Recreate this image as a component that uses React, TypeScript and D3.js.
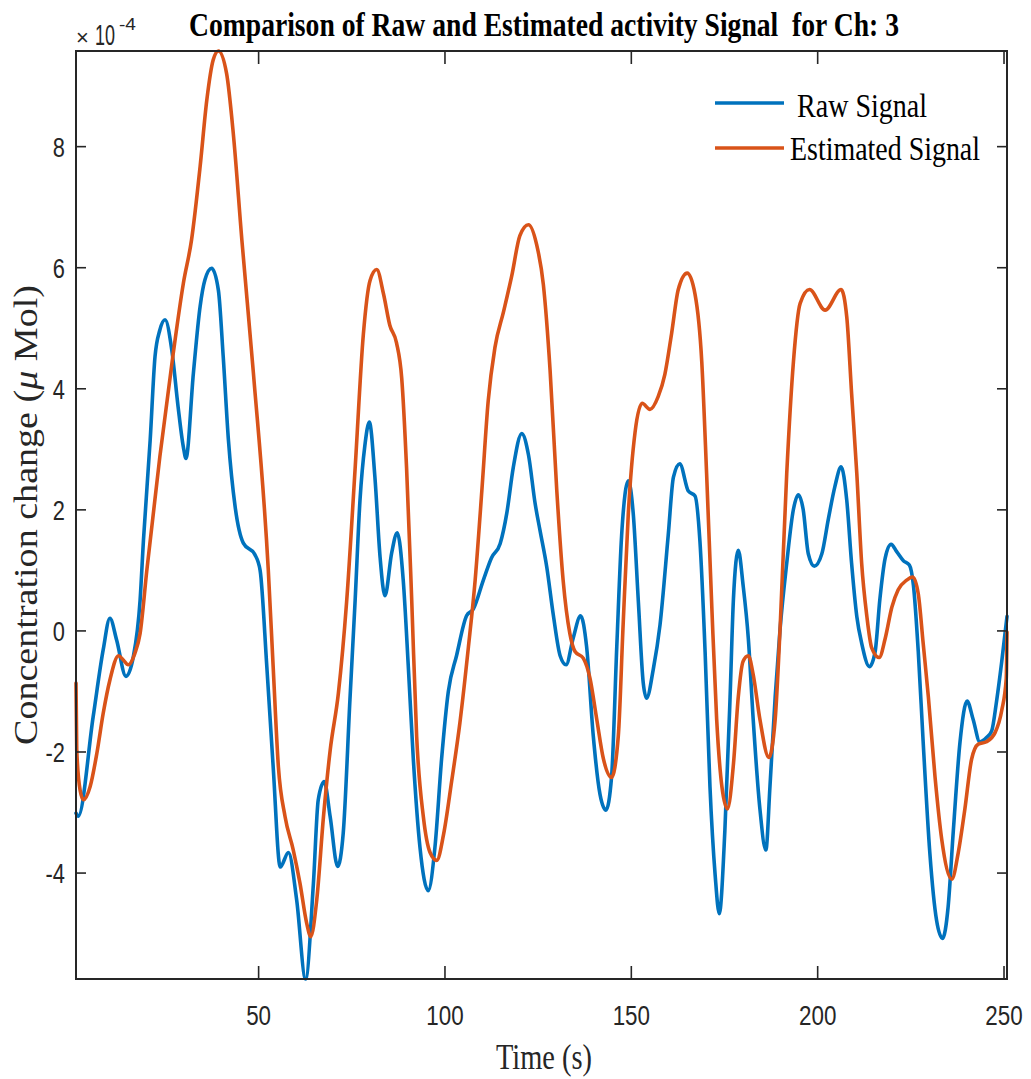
import React, { useEffect } from "react";
import * as d3 from "d3";

// Values are in units of 1e-4 (axis multiplier shown as ×10^-4)
const rawTime = [1, 1.6, 5.6, 8.3, 10.1, 11.9, 14.4, 16.4, 18.2, 19.1, 20.9, 22.2, 23.5, 24.9, 26.7, 28.4, 29.8, 30.5, 32.5, 34.3, 35.6, 37.4, 39.2, 40.5, 41.9, 43.7, 45.9, 49.0, 50.4, 52.2, 53.9, 55.8, 58.0, 60.2, 62.6, 64.7, 66.0, 67.6, 69.2, 71.2, 72.7, 74.5, 75.9, 77.2, 78.5, 79.7, 81.2, 82.6, 83.9, 85.7, 87.2, 88.8, 90.2, 91.5, 93.3, 95.5, 97.3, 99.1, 100.9, 103.1, 105.8, 107.6, 110.3, 112.5, 114.8, 116.6, 118.3, 120.6, 122.4, 124.2, 125.5, 127.3, 129.1, 130.9, 132.5, 134.4, 136.4, 138.0, 139.8, 141.6, 143.2, 144.7, 146.1, 147.4, 149.2, 150.5, 151.9, 153.2, 154.1, 155.9, 157.7, 159.9, 161.3, 163.0, 165.3, 167.1, 168.4, 169.8, 171.1, 172.5, 173.6, 175.1, 176.5, 177.4, 178.7, 180.0, 181.4, 182.7, 184.5, 186.1, 187.2, 188.6, 189.9, 191.7, 193.5, 194.8, 196.1, 197.5, 199.1, 201.1, 202.9, 204.6, 206.3, 207.8, 209.1, 210.5, 211.8, 213.9, 215.4, 216.7, 218.1, 219.7, 221.2, 223.0, 224.6, 225.7, 227.0, 228.3, 230.1, 231.9, 233.5, 235.0, 236.4, 238.2, 240.1, 241.7, 243.5, 245.3, 246.7, 248.0, 249.4, 250.8];
const rawValue = [-3.01, -3.06, -1.42, -0.31, 0.21, -0.15, -0.75, -0.42, 0.51, 1.5, 3.15, 4.53, 4.97, 5.14, 4.64, 3.70, 3.04, 2.85, 4.26, 5.36, 5.80, 5.99, 5.63, 4.53, 3.15, 2.05, 1.45, 1.26, 1.0, -0.59, -2.24, -3.9, -3.66, -4.44, -5.75, -4.17, -2.79, -2.49, -3.07, -3.89, -3.34, -1.14, 0.51, 2.16, 3.06, 3.45, 2.54, 1.21, 0.58, 1.29, 1.62, 0.84, -0.63, -2.11, -3.58, -4.29, -3.58, -2.11, -1.0, -0.41, 0.25, 0.36, 0.84, 1.21, 1.44, 1.95, 2.69, 3.26, 2.91, 2.10, 1.66, 1.06, 0.25, -0.41, -0.56, -0.12, 0.25, -0.26, -1.74, -2.70, -2.96, -2.41, -0.26, 1.58, 2.48, 1.95, 0.47, -0.86, -1.11, -0.63, 0.10, 1.58, 2.54, 2.76, 2.31, 2.23, 1.49, -0.35, -2.57, -4.04, -4.67, -3.30, -1.09, 0.53, 1.33, 0.75, -0.13, -1.46, -2.94, -3.62, -2.57, -1.09, 0.02, 1.12, 2.01, 2.25, 2.01, 1.27, 1.07, 1.27, 1.86, 2.38, 2.71, 2.16, 1.12, 0.24, -0.20, -0.59, -0.35, 0.53, 1.20, 1.43, 1.31, 1.16, 1.09, 0.75, -0.35, -1.83, -3.67, -4.78, -5.08, -4.56, -3.30, -1.83, -1.16, -1.46, -1.83, -1.76, -1.65, -1.16, -0.50, 0.24];

const estTime = [1, 1.2, 2.1, 3.0, 4.8, 6.6, 8.3, 10.1, 12.4, 13.7, 15.0, 16.8, 18.2, 20.0, 23.5, 27.1, 29.8, 32.0, 34.3, 36.1, 37.8, 39.2, 41.4, 43.2, 45.5, 48.6, 52.6, 53.9, 55.3, 57.1, 59.3, 61.1, 62.9, 64.0, 65.6, 67.4, 69.2, 71.4, 73.6, 75.9, 78.1, 79.9, 81.7, 83.5, 85.2, 87.0, 88.4, 89.7, 91.1, 92.4, 94.2, 96.0, 97.8, 99.6, 101.8, 104.0, 106.3, 108.1, 109.9, 111.6, 113.4, 115.7, 117.9, 120.1, 122.4, 124.6, 126.4, 128.2, 130.0, 131.7, 133.5, 134.9, 137.1, 138.9, 140.7, 142.5, 144.7, 146.5, 147.8, 149.2, 151.0, 152.9, 155.0, 157.2, 159.0, 160.8, 162.6, 165.0, 167.1, 168.9, 170.2, 171.6, 172.9, 174.3, 175.8, 177.4, 178.7, 180.0, 181.4, 182.7, 184.5, 186.9, 188.6, 189.9, 191.7, 193.5, 195.3, 197.8, 202.0, 206.3, 207.8, 209.1, 210.5, 211.8, 213.2, 214.5, 216.5, 218.1, 219.9, 221.6, 223.9, 225.5, 227.0, 228.3, 229.7, 231.5, 233.3, 236.0, 237.7, 239.5, 241.3, 243.1, 245.3, 247.6, 249.4, 250.6, 250.8];
const estValue = [-0.86, -1.97, -2.63, -2.79, -2.57, -2.02, -1.36, -0.81, -0.41, -0.48, -0.56, -0.37, -0.04, 1.0, 2.88, 4.59, 5.74, 6.46, 7.67, 8.77, 9.43, 9.58, 9.21, 8.22, 6.46, 4.26, 1.0, -0.59, -2.24, -3.07, -3.62, -4.17, -4.83, -5.05, -4.44, -3.07, -1.97, -1.03, 0.47, 2.69, 4.9, 5.79, 5.97, 5.57, 5.05, 4.76, 4.17, 2.69, 0.47, -1.74, -3.07, -3.66, -3.79, -3.37, -2.48, -1.52, -0.26, 0.84, 2.32, 3.8, 4.68, 5.27, 5.86, 6.53, 6.71, 6.38, 5.72, 4.31, 2.32, 0.84, -0.04, -0.34, -0.45, -0.78, -1.45, -2.11, -2.42, -1.74, 0.10, 1.95, 3.28, 3.76, 3.66, 3.87, 4.24, 4.91, 5.64, 5.91, 5.56, 4.45, 2.60, 0.39, -1.46, -2.57, -2.94, -2.20, -1.09, -0.50, -0.41, -0.72, -1.46, -2.09, -1.46, 0.02, 2.60, 4.45, 5.41, 5.64, 5.30, 5.64, 5.19, 3.93, 2.60, 1.12, 0.24, -0.28, -0.44, -0.13, 0.39, 0.68, 0.84, 0.89, 0.61, -0.20, -1.09, -2.42, -3.45, -4.10, -3.67, -2.94, -2.12, -1.87, -1.83, -1.68, -1.31, -0.79, -0.02];

const xTicks = [50, 100, 150, 200, 250];
const yTicks = [-4, -2, 0, 2, 4, 6, 8];
const seriesNames = ["Raw Signal", "Estimated Signal"];
const seriesColors = ["#0072BD", "#D95319"];

const W = 1031;
const H = 1079;
const L = 76, R = 1007, T = 51, B = 979;
const AX = "#262626";

export default function App() {
  useEffect(() => {
    document.body.style.margin = "0";
    document.body.style.overflow = "hidden";
  }, []);

  const x = d3.scaleLinear().domain([1, 250.8]).range([L, R]);
  const y = d3.scaleLinear().domain([-5.75, 9.58]).range([B, T]);

  const line = d3
    .line<[number, number]>()
    .x((d) => x(d[0]))
    .y((d) => y(d[1]))
    .curve(d3.curveMonotoneX);

  const rawPts = rawTime.map((t, i) => [t, rawValue[i]] as [number, number]);
  const estPts = estTime.map((t, i) => [t, estValue[i]] as [number, number]);

  const sans = "'Liberation Sans', Arial, Helvetica, sans-serif";
  const serif = "'Liberation Serif', 'Times New Roman', serif";

  return (
    <svg
      width={W}
      height={H}
      viewBox={`0 0 ${W} ${H}`}
      style={{ position: "absolute", left: 0, top: 0, display: "block", background: "#fff" }}
    >
      <rect x={0} y={0} width={W} height={H} fill="#fff" />
      <defs>
        <clipPath id="plotClip">
          <rect x={L - 2} y={T - 2} width={R - L + 4} height={B - T + 4} />
        </clipPath>
      </defs>

      {/* data lines */}
      <g clipPath="url(#plotClip)" fill="none" strokeLinejoin="round" strokeLinecap="round">
        <path d={line(rawPts) || ""} stroke={seriesColors[0]} strokeWidth={3.6} />
        <path d={line(estPts) || ""} stroke={seriesColors[1]} strokeWidth={3.6} />
      </g>

      {/* box */}
      <rect x={L} y={T} width={R - L} height={B - T} fill="none" stroke={AX} strokeWidth={2} />

      {/* x ticks */}
      {xTicks.map((t) => (
        <g key={"xt" + t}>
          <line x1={x(t)} x2={x(t)} y1={B} y2={B - 13} stroke={AX} strokeWidth={1.6} />
          <line x1={x(t)} x2={x(t)} y1={T} y2={T + 13} stroke={AX} strokeWidth={1.6} />
          <text
            transform={`translate(${x(t)},${1025}) scale(0.8,1)`}
            textAnchor="middle"
            fontFamily={sans}
            fontSize={28}
            fill={AX}
          >
            {t}
          </text>
        </g>
      ))}

      {/* y ticks */}
      {yTicks.map((v) => (
        <g key={"yt" + v}>
          <line x1={L} x2={L + 10} y1={y(v)} y2={y(v)} stroke={AX} strokeWidth={1.6} />
          <line x1={R} x2={R - 10} y1={y(v)} y2={y(v)} stroke={AX} strokeWidth={1.6} />
          <text
            transform={`translate(${65},${y(v) + 10}) scale(0.78,1)`}
            textAnchor="end"
            fontFamily={sans}
            fontSize={28}
            fill={AX}
          >
            {v}
          </text>
        </g>
      ))}

      {/* exponent */}
      <text x={76} y={45} fontFamily={sans} fontSize={22} fill={AX}>
        ×
      </text>
      <text x={95} y={45} fontFamily={sans} fontSize={29} textLength={20} lengthAdjust="spacingAndGlyphs" fill={AX}>
        10
      </text>
      <text x={119} y={30} fontFamily={sans} fontSize={17} textLength={17} lengthAdjust="spacingAndGlyphs" fill={AX}>
        -4
      </text>

      {/* title */}
      <text
        x={544}
        y={36}
        textAnchor="middle"
        fontFamily={serif}
        fontWeight="bold"
        fontSize={33}
        textLength={710}
        lengthAdjust="spacingAndGlyphs"
        fill="#000"
        style={{ whiteSpace: "pre" }}
      >
        {"Comparison of Raw and Estimated activity Signal  for Ch: 3"}
      </text>

      {/* x label */}
      <text
        x={544}
        y={1069}
        textAnchor="middle"
        fontFamily={serif}
        fontSize={36}
        textLength={96}
        lengthAdjust="spacingAndGlyphs"
        fill={AX}
      >
        Time (s)
      </text>

      {/* y label */}
      <text
        transform={`translate(37,515) rotate(-90)`}
        textAnchor="middle"
        fontFamily={serif}
        fontSize={33}
        textLength={460}
        lengthAdjust="spacingAndGlyphs"
        fill={AX}
      >
        Concentration change (<tspan fontStyle="italic">μ</tspan> Mol)
      </text>

      {/* legend */}
      <g>
        <line x1={715} x2={784} y1={103} y2={103} stroke={seriesColors[0]} strokeWidth={3.6} />
        <text x={797} y={117} fontFamily={serif} fontSize={33} textLength={130} lengthAdjust="spacingAndGlyphs" fill="#000">
          {seriesNames[0]}
        </text>
        <line x1={715} x2={784} y1={148} y2={148} stroke={seriesColors[1]} strokeWidth={3.6} />
        <text x={790} y={160} fontFamily={serif} fontSize={33} textLength={190} lengthAdjust="spacingAndGlyphs" fill="#000">
          {seriesNames[1]}
        </text>
      </g>
    </svg>
  );
}
